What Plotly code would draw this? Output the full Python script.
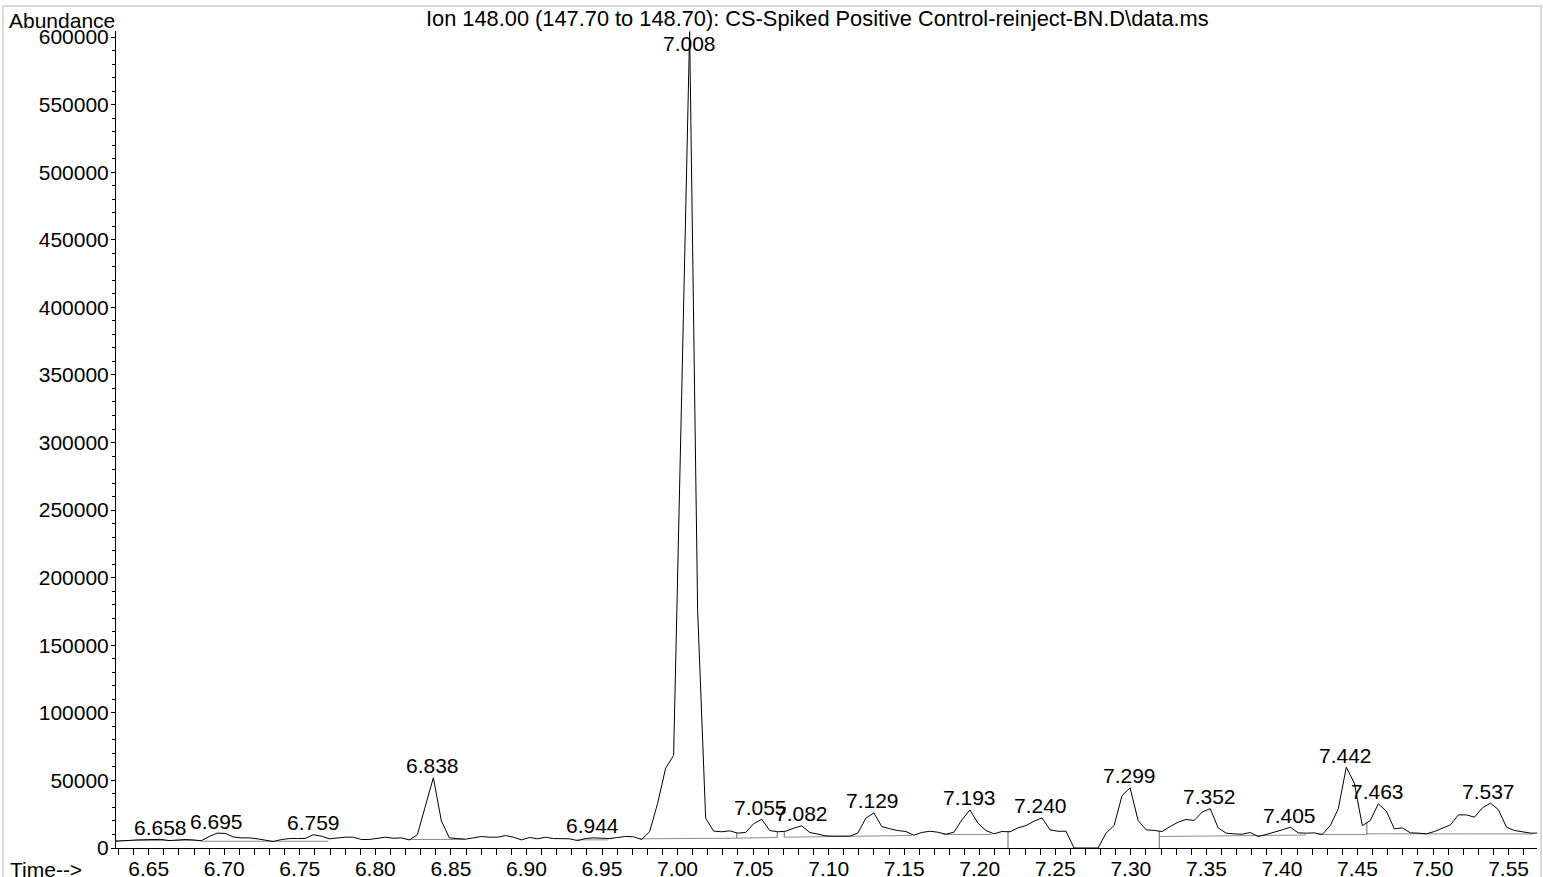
import plotly.graph_objects as go
import numpy as np

# Retention times (min) of the scans
times = [
    6.6264, 6.6317, 6.6370, 6.6423, 6.6476, 6.6529, 6.6582, 6.6635, 6.6688, 6.6741,
    6.6794, 6.6847, 6.6900, 6.6953, 6.7006, 6.7059, 6.7112, 6.7165, 6.7218, 6.7271,
    6.7324, 6.7377, 6.7430, 6.7483, 6.7536, 6.7589, 6.7642, 6.7695, 6.7748, 6.7801,
    6.7854, 6.7907, 6.7960, 6.8013, 6.8066, 6.8119, 6.8172, 6.8225, 6.8278, 6.8331,
    6.8384, 6.8437, 6.8490, 6.8543, 6.8596, 6.8649, 6.8702, 6.8755, 6.8808, 6.8861,
    6.8914, 6.8967, 6.9020, 6.9073, 6.9126, 6.9179, 6.9232, 6.9285, 6.9338, 6.9391,
    6.9444, 6.9497, 6.9550, 6.9603, 6.9656, 6.9709, 6.9762, 6.9815, 6.9868, 6.9921,
    6.9974, 7.0027, 7.0080, 7.0133, 7.0186, 7.0239, 7.0292, 7.0345, 7.0398, 7.0451,
    7.0504, 7.0557, 7.0610, 7.0663, 7.0716, 7.0769, 7.0822, 7.0875, 7.0928, 7.0981,
    7.1034, 7.1087, 7.1140, 7.1193, 7.1246, 7.1299, 7.1352, 7.1405, 7.1458, 7.1511,
    7.1564, 7.1617, 7.1670, 7.1723, 7.1776, 7.1829, 7.1882, 7.1935, 7.1988, 7.2041,
    7.2094, 7.2147, 7.2200, 7.2253, 7.2306, 7.2359, 7.2412, 7.2465, 7.2518, 7.2571,
    7.2624, 7.2677, 7.2730, 7.2783, 7.2836, 7.2889, 7.2942, 7.2995, 7.3048, 7.3101,
    7.3154, 7.3207, 7.3260, 7.3313, 7.3366, 7.3419, 7.3472, 7.3525, 7.3578, 7.3631,
    7.3684, 7.3737, 7.3790, 7.3843, 7.3896, 7.3949, 7.4002, 7.4055, 7.4108, 7.4161,
    7.4214, 7.4267, 7.4320, 7.4373, 7.4426, 7.4479, 7.4532, 7.4585, 7.4638, 7.4691,
    7.4744, 7.4797, 7.4850, 7.4903, 7.4956, 7.5009, 7.5062, 7.5115, 7.5168, 7.5221,
    7.5274, 7.5327, 7.5380, 7.5433, 7.5486, 7.5539, 7.5592, 7.5645, 7.5698,
]

# Abundance (ion 148) per scan
abundance = [
    4800, 5000, 5600, 6000, 6000, 6200, 6400, 5500, 6000, 6300,
    6000, 5300, 8500, 11000, 10800, 8200, 7500, 7500, 6800, 5800,
    4800, 6200, 7000, 7000, 7100, 9800, 8800, 6800, 7500, 8000,
    8000, 6300, 6300, 7000, 8000, 7200, 7500, 6000, 9800, 31000,
    52000, 20000, 7500, 7000, 6500, 7500, 8500, 8000, 8000, 9200,
    8000, 6000, 7800, 6800, 8000, 7000, 7000, 6800, 5500, 7000,
    7500, 7000, 7000, 7800, 8500, 8300, 6300, 12000, 33000, 59000,
    68500, 334000, 604000, 175800, 22000, 12500, 12000, 12700, 11000, 11500,
    18000, 21300, 12950, 12000, 12400, 14650, 16400, 11500, 10240, 9000,
    8750, 8500, 8750, 11000, 22000, 26000, 15900, 14200, 12900, 12200,
    9500, 11500, 12400, 11700, 10200, 11700, 20800, 28200, 18400, 12950,
    10500, 12200, 12000, 14900, 16600, 19800, 22300, 13400, 12400, 12400,
    0, 0, 0, 0, 11000, 16650, 38850, 44500, 20350, 13450,
    13000, 12200, 15900, 19100, 21100, 20350, 26600, 29100, 14900, 10950,
    10450, 10200, 11450, 8500, 10000, 11450, 13450, 15400, 11200, 10950,
    11200, 10000, 16650, 29000, 59800, 48000, 16500, 20400, 32700, 27200,
    14200, 14900, 11200, 11000, 10450, 12200, 14400, 17100, 24500, 24500,
    22800, 29700, 33200, 28300, 15400, 12950, 12000, 11000, 11000,
]

# Peak labels
peak_labels = ["6.658", "6.695", "6.759", "6.838", "6.944", "7.008", "7.055", "7.082",
               "7.129", "7.193", "7.240", "7.299", "7.352", "7.405", "7.442", "7.463", "7.537"]
peak_times = [6.658, 6.695, 6.759, 6.838, 6.944, 7.008, 7.055, 7.082,
              7.129, 7.193, 7.240, 7.299, 7.352, 7.405, 7.442, 7.463, 7.537]

# Integration baselines (start time, start abundance, end time, end abundance)
bl_t0 = [6.6284, 6.6850, 6.8207, 6.9332, 6.9752, 7.0392, 7.0706, 7.1759, 7.3188, 7.4240, 7.4562]
bl_v0 = [5500, 5000, 6300, 6000, 6800, 7250, 8000, 10000, 8500, 10000, 10500]
bl_t1 = [6.6850, 6.7689, 6.8593, 6.9542, 7.0392, 7.0660, 7.1550, 7.2079, 7.4160, 7.4562, 7.5660]
bl_v1 = [5500, 5000, 6300, 6000, 7250, 7800, 9250, 10000, 9600, 10000, 10400]

# Drop lines (time, lower abundance)
drop_t = [7.0392, 7.0660, 7.0706, 7.2187, 7.3188, 7.4562]
drop_base = [7250, 7800, 8000, 0, 0, 10000]

FONT = "Arial, 'Liberation Sans', sans-serif"
FS = 21

W, H = 1543, 877
ML, MR, MT, MB = 116, 6, 31, 29
PW, PH = W - ML - MR, H - MT - MB
Y_MAX = 604470
X_RANGE = [6.62836, 7.5688]

fig = go.Figure()

# baselines
bx, by = [], []
for a, b, c, d in zip(bl_t0, bl_v0, bl_t1, bl_v1):
    bx += [a, c, None]
    by += [b, d, None]
fig.add_trace(go.Scatter(x=bx, y=by, mode="lines", line=dict(color="#8c8c8c", width=1),
                         hoverinfo="skip", connectgaps=False))

# drop lines
dx, dy = [], []
for t, b in zip(drop_t, drop_base):
    top = float(np.interp(t, times, abundance))
    dx += [t, t, None]
    dy += [b, top, None]
fig.add_trace(go.Scatter(x=dx, y=dy, mode="lines", line=dict(color="#666666", width=1),
                         hoverinfo="skip", connectgaps=False))

# chromatogram
fig.add_trace(go.Scatter(x=times, y=abundance, mode="lines",
                         line=dict(color="black", width=1), hoverinfo="skip"))

px_per_val = PH / Y_MAX
label_off = 12 / px_per_val
label_cap = Y_MAX - 12 / px_per_val
annotations = []
for lab, t in zip(peak_labels, peak_times):
    i = int(np.argmin(np.abs(np.array(times) - t)))
    v = abundance[i]
    yy = min(v + label_off, label_cap)
    annotations.append(dict(x=t, y=yy, xref="x", yref="y", text=lab, showarrow=False,
                            xanchor="center", yanchor="middle",
                            font=dict(family=FONT, size=FS, color="black")))

def pxx(p):
    return (p - ML) / PW

def pxy(p):
    return (H - MB - p) / PH

annotations.append(dict(x=pxx(817), y=pxy(19), xref="paper", yref="paper",
                        text="Ion 148.00 (147.70 to 148.70): CS-Spiked Positive Control-reinject-BN.D\\data.ms",
                        showarrow=False, xanchor="center", yanchor="middle",
                        font=dict(family=FONT, size=21.8, color="black")))
annotations.append(dict(x=pxx(7), y=pxy(20), xref="paper", yref="paper", text="Abundance",
                        showarrow=False, xanchor="left", yanchor="middle",
                        font=dict(family=FONT, size=FS, color="black")))
annotations.append(dict(x=pxx(8), y=pxy(869), xref="paper", yref="paper", text="Time-->",
                        showarrow=False, xanchor="left", yanchor="middle",
                        font=dict(family=FONT, size=FS, color="black")))

shapes = [dict(type="rect", xref="paper", yref="paper",
               x0=pxx(3), x1=pxx(1541), y0=pxy(880), y1=pxy(6),
               line=dict(color="#d9d9d9", width=2), fillcolor="rgba(0,0,0,0)", layer="below")]

fig.update_layout(
    width=W, height=H,
    margin=dict(l=ML, r=MR, t=MT, b=MB, pad=0, autoexpand=False),
    paper_bgcolor="white", plot_bgcolor="white",
    showlegend=False,
    annotations=annotations,
    shapes=shapes,
    font=dict(family=FONT, size=FS, color="black"),
    xaxis=dict(range=X_RANGE, tick0=6.65, dtick=0.05, tickformat=".2f",
               automargin=False,
               ticks="outside", ticklen=6, tickwidth=1, tickcolor="black",
               ticklabelstandoff=-4,
               showline=True, linecolor="black", linewidth=1,
               showgrid=False, zeroline=False,
               tickfont=dict(family=FONT, size=FS, color="black"),
               minor=dict(tick0=6.65, dtick=0.01, ticks="outside", ticklen=6,
                          tickwidth=1, tickcolor="black", showgrid=False)),
    yaxis=dict(range=[0, Y_MAX], tick0=0, dtick=50000, tickformat="d",
               automargin=False,
               ticks="outside", ticklen=4, tickwidth=1, tickcolor="black",
               ticklabelstandoff=-2,
               showline=True, linecolor="black", linewidth=1,
               showgrid=False, zeroline=False,
               tickfont=dict(family=FONT, size=FS, color="black"),
               minor=dict(tick0=0, dtick=10000, ticks="outside", ticklen=3,
                          tickwidth=1, tickcolor="black", showgrid=False)),
)

fig.write_html(
    "out.html",
    config={"displayModeBar": False},
    post_script="document.body.style.margin='0px';document.body.style.overflow='hidden';",
)
